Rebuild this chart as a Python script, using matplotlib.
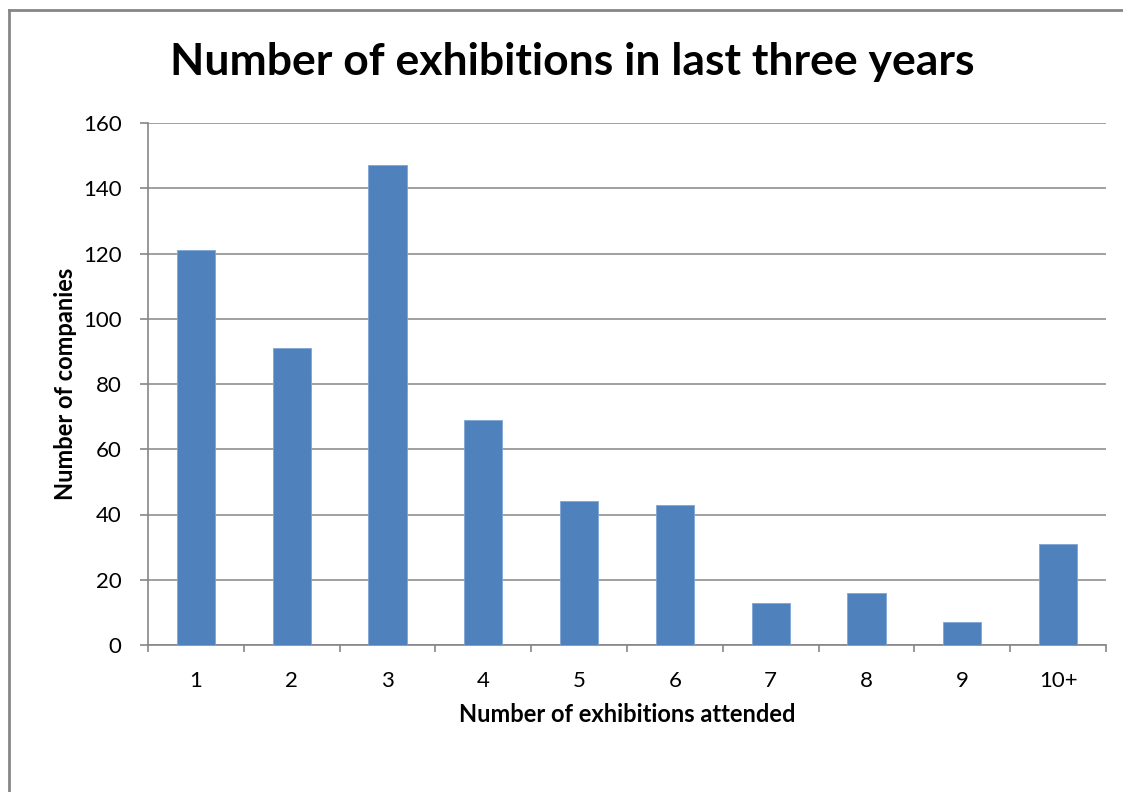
import matplotlib
matplotlib.use("Agg")
import matplotlib.pyplot as plt
from matplotlib.lines import Line2D

categories = ["1", "2", "3", "4", "5", "6", "7", "8", "9", "10+"]
companies = [121, 91, 147, 69, 44, 43, 13, 16, 7, 31]
y_ticks = [0, 20, 40, 60, 80, 100, 120, 140, 160]

plt.rcParams['font.family'] = ['Lato', 'DejaVu Sans']

fig = plt.figure(figsize=(11.23, 7.92), dpi=100)
ax = fig.add_axes([148/1123, 1-645/792, (1106-148)/1123, (645-123)/792])

x = list(range(len(categories)))
ax.bar(x, companies, width=0.4, color="#4F81BD", edgecolor="#7FA4D4", linewidth=0.6, zorder=3)

ax.set_xlim(-0.5, len(categories) - 0.5)
ax.set_ylim(0, 160)
ax.set_yticks(y_ticks)
ax.set_yticklabels([str(v) for v in y_ticks], fontsize=16)
ax.set_xticks(x)
ax.set_xticklabels(categories, fontsize=16)
ax.tick_params(axis='x', length=0, pad=19)
ax.set_xticks([i - 0.5 for i in range(len(categories) + 1)], minor=True)
ax.tick_params(axis='x', which='minor', length=5, color="#868686", width=1.2, direction='out')
ax.tick_params(axis='y', length=6, color="#868686", width=1.2, pad=13)

ax.grid(axis='y', color="#868686", linewidth=1.1, zorder=0)
for s in ["top", "right"]:
    ax.spines[s].set_visible(False)
for s in ["left", "bottom"]:
    ax.spines[s].set_color("#868686")
    ax.spines[s].set_linewidth(1.2)

ax.set_xlabel("Number of exhibitions attended", fontsize=17, fontweight='bold', labelpad=8)
ax.set_ylabel("Number of companies", fontsize=17, fontweight='bold', labelpad=4)

fig.text(572/1123, 1-62/792, "Number of exhibitions in last three years",
         ha='center', va='center', fontsize=32, fontweight='bold')

# chart area border (partially visible)
fig.add_artist(Line2D([9/1123, 9/1123], [0, 1-10/792], color="#868686", linewidth=2, transform=fig.transFigure))
fig.add_artist(Line2D([9/1123, 1], [1-10/792, 1-10/792], color="#868686", linewidth=2, transform=fig.transFigure))

fig.savefig("out.png", dpi=100)
